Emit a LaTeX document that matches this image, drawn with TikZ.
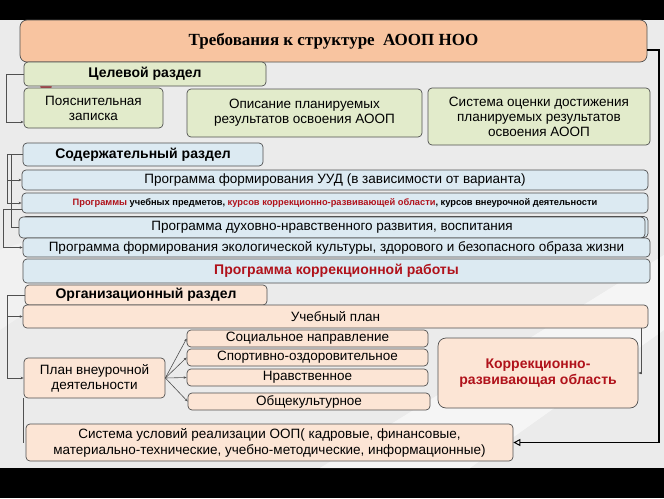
\documentclass[tikz,border=0pt]{standalone}
\usepackage{fontspec}
\setmainfont{Liberation Sans}
\newfontfamily\titlefont{Liberation Serif}
\usetikzlibrary{arrows.meta}
\definecolor{bgc}{HTML}{EBEBEB}
\definecolor{ttl}{HTML}{F8C4A0}
\definecolor{grn}{HTML}{E2EBCB}
\definecolor{blu}{HTML}{DCEAF2}
\definecolor{pch}{HTML}{FCE5D5}
\definecolor{bord}{HTML}{505050}
\definecolor{rd}{HTML}{B0121B}
\newcommand{\mybox}[7]{\node[#6, minimum width={(#4-#2)*1pt}, minimum height={(#5-#3)*1pt}] (#1) at ({(#2+#4)/2},{(#3+#5)/2}) {#7};}
\begin{document}
\begin{tikzpicture}[x=1pt,y=-1pt,
  bx/.style={draw=bord, line width=0.7pt, rounded corners=4pt, inner sep=0pt, align=center},
  gb/.style={bx, fill=grn},
  bb/.style={bx, fill=blu},
  pb/.style={bx, fill=pch},
  fn/.style={font=\fontsize{13.5}{15}\selectfont},
  fs/.style={font=\fontsize{13.5}{16}\selectfont},
  fb/.style={font=\fontsize{14}{16}\selectfont\bfseries},
  conn/.style={draw=bord, line width=0.6pt, -{Stealth[length=3pt,width=2.5pt]}},
  plain/.style={draw=bord, line width=0.6pt},
  thickc/.style={draw=black, line width=1.8pt, -{Triangle[open,length=7pt,width=7pt,line width=1pt]}}
]
\useasboundingbox (0,0) rectangle (664,498);
% background
\fill[black] (0,0) rectangle (664,498);
\fill[bgc] (0,20) rectangle (664,468);
\fill[white, opacity=0.55] (320,468) -- (470,468) -- (664,330) -- (664,255) -- cycle;
\fill[white, opacity=0.35] (0,250) -- (0,330) -- (60,290) -- (60,230) -- cycle;
% small red circle behind
\fill[rd!80] (46,85) circle (6);
% title
\mybox{title}{20}{20}{647}{62}{bx, fill=ttl, rounded corners=7pt, font=\titlefont\fontsize{17}{20}\selectfont\bfseries}{Требования к структуре~~АООП НОО}
% target section
\mybox{tsel}{24}{62}{266}{86}{gb, fb}{Целевой раздел}
\mybox{pz}{24}{88}{163}{128}{gb, fn}{Пояснительная\\записка}
\mybox{opis}{187}{89}{422}{137}{gb, fn}{Описание планируемых\\результатов освоения АООП}
\mybox{sist}{428}{88}{650}{145}{gb, fn}{Система оценки достижения\\планируемых результатов\\освоения АООП}
% content section
\mybox{sod}{23}{143}{263}{166}{bb, fb}{Содержательный раздел}
\mybox{uud}{22}{170}{648}{190}{bb, fn}{Программа формирования УУД (в зависимости от варианта)}
\mybox{prog}{22}{193}{648}{213}{bb, font=\fontsize{9.3}{10}\selectfont\bfseries}{\textcolor{rd}{Программы} учебных предметов, \textcolor{rd}{курсов коррекционно-развивающей области}, курсов внеурочной деятельности}
\node[bb, minimum width=626pt, minimum height=21pt] (duhs) at (335,227) {};
\mybox{duh}{19}{217}{645}{238}{bb, fn}{Программа духовно-нравственного развития, воспитания}
\mybox{eco}{23}{238}{650}{257}{bb, fn}{Программа формирования экологической культуры, здорового и безопасного образа жизни}
\mybox{korrp}{23}{259}{650}{283}{bb, fb, text=rd}{Программа коррекционной работы}
% organisational section
\mybox{org}{25}{285}{267}{305}{pb, fb}{Организационный раздел}
\mybox{uch}{23}{305}{648}{328}{pb, fn}{Учебный план}
\mybox{plan}{24}{358}{165}{398}{pb, fn}{План внеурочной\\деятельности}
\mybox{soc}{187}{330}{428}{347}{pb, fn}{Социальное направление}
\mybox{sport}{187}{349}{428}{366}{pb, fn}{Спортивно-оздоровительное}
\mybox{nrav}{187}{369}{428}{386}{pb, fn}{Нравственное}
\mybox{obsh}{188}{393}{430}{410}{pb, fn}{Общекультурное}
\mybox{korr}{438}{338}{638}{408}{pb, rounded corners=8pt, fb, text=rd}{Коррекционно-\\развивающая область}
\mybox{sys}{26}{424}{513}{461}{pb, fs}{Система условий реализации ООП( кадровые, финансовые,\\материально-технические, учебно-методические, информационные)}
% connectors
\draw[conn] (tsel.west) -- ++(-17,0) |- ([yshift=-14pt]pz.west);
\draw[conn] (sod.west) -- ++(-15,0) |- (uud.west);
\draw[conn] (sod.west) -- ++(-15,0) |- (prog.west);
\draw[plain] (sod.west) -- ++(-11,0) |- (duh.west);
\draw[conn] ([yshift=-6pt]prog.west) -- ++(-18,0) |- (eco.west);
\draw[conn] (org.west) -- ++(-17,0) |- (uch.west);
\draw[conn] (org.west) -- ++(-17,0) |- (plan.west);
\draw[plain] (plan.south west) -- (plan.south west |- sys.west);
\foreach \t in {soc,sport,nrav,obsh} \draw[conn] (plan.east) -- (\t.west);
\draw[conn] ([xshift=-7pt]uch.south east) |- (korr.east);
\draw[thickc] ([yshift=-9pt]title.east) -- ++(12,0) |- (sys.east);
\end{tikzpicture}
\end{document}
